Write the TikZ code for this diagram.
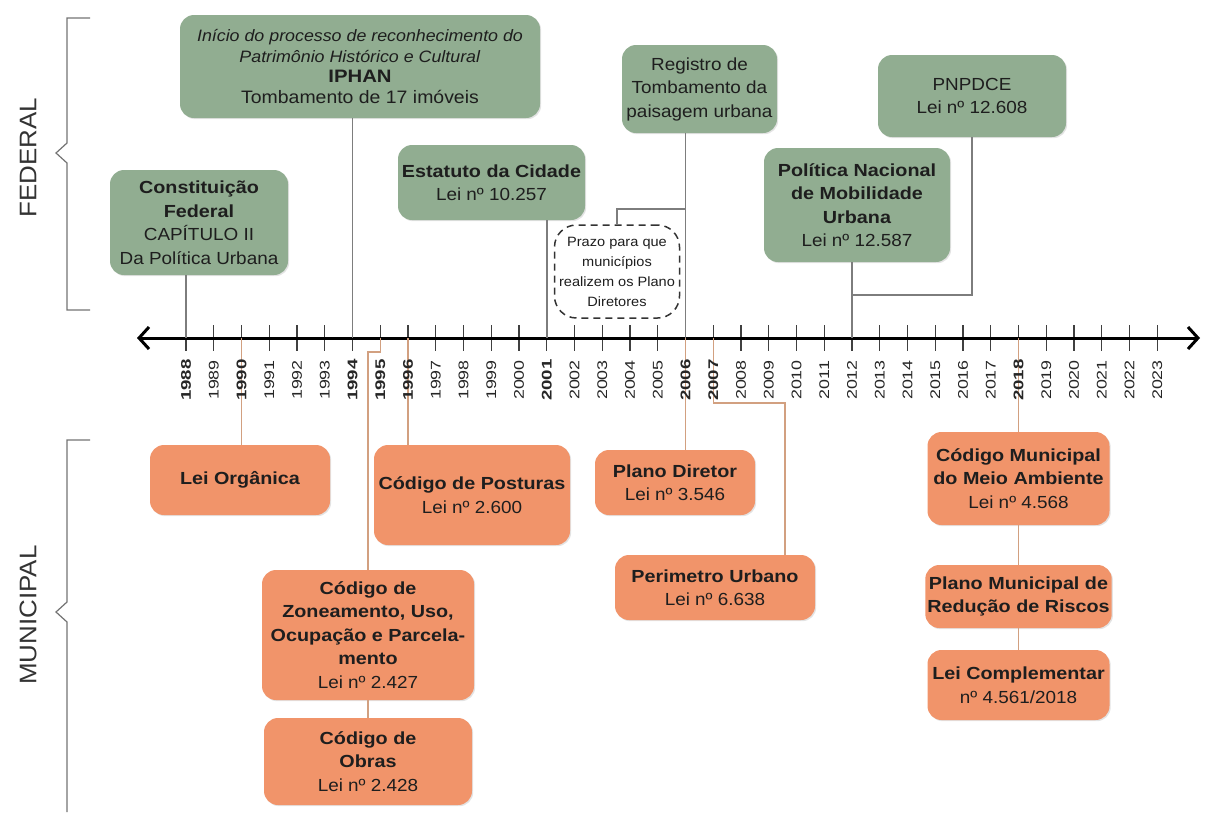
\documentclass[tikz,border=0pt]{standalone}
\usepackage{fontspec}
\setmainfont{Liberation Sans}[FakeStretch=1.08, BoldFeatures={FakeStretch=1.13}]
\usetikzlibrary{arrows.meta,shadows}
\definecolor{fedgreen}{RGB}{145,173,145}
\definecolor{munorange}{RGB}{241,148,106}
\definecolor{txt}{RGB}{30,30,30}
\definecolor{fline}{RGB}{125,125,125}
\definecolor{mline}{RGB}{210,160,128}
\newcommand\bxfont{\fontsize{17.5}{23.5}\selectfont}
\newcommand\yrfont{\fontsize{14}{14}\selectfont}
\begin{document}
\begin{tikzpicture}[x=1pt,y=-1pt,
  box/.style={rectangle, rounded corners=14pt, inner sep=2pt, align=center, text=txt, font=\bxfont,
    drop shadow={shadow xshift=1.2pt, shadow yshift=-1.2pt, opacity=0.22}},
  fedbox/.style={box, fill=fedgreen},
  munbox/.style={box, fill=munorange},
  fcon/.style={draw=fline, line width=1.5pt},
  mcon/.style={draw=mline, line width=1.5pt},
  tickmark/.style={draw=black!75, line width=1.3pt},
  bracketline/.style={draw=black!55, line width=1.2pt},
  sidelabel/.style={rotate=90, font=\fontsize{24}{24}\selectfont, text=black!80},
  yearlab/.style={rotate=90, font=\yrfont, text=black!85},
  axisarrow/.style={line width=3pt, {Straight Barb[length=10pt,width=22pt]}-{Straight Barb[length=10pt,width=22pt]}},
  dashbox/.style={rectangle, draw=black!80, dashed, dash pattern=on 7pt off 5pt, line width=1.5pt,
    rounded corners=22pt, fill=white, align=center, text=txt, font=\fontsize{13.5}{20}\selectfont, inner sep=1pt}
]
\path[use as bounding box] (0,0) rectangle (1206,812);

% year coordinates
\foreach \yr in {1988,...,2023}{
  \coordinate (t\yr) at ({186+(\yr-1988)*27.75},338);
}
% ticks
\foreach \yr in {1988,...,2023}{
  \draw[tickmark] (t\yr) ++(0,-13) -- ++(0,26);
}
% axis
\coordinate (axL) at (137,338);
\coordinate (axR) at (1200,338);
\draw[axisarrow] (axL) -- (axR);

% side brackets
\draw[bracketline] (90,18) -- (67,18) -- (67,143) -- (56,153) -- (67,163) -- (67,310) -- (90,310);
\draw[bracketline] (90,440) -- (67,440) -- (67,602) -- (56,612) -- (67,622) -- (67,812);
\node[sidelabel] (fedlab) at (28,158) {FEDERAL};
\node[sidelabel] (munlab) at (28,615) {MUNICIPAL};

% federal boxes
\node[fedbox, minimum width=178pt, minimum height=105pt] (const) at (199,222.5)
  {\textbf{Constituição}\\\textbf{Federal}\\CAPÍTULO II\\Da Política Urbana};
\node[fedbox, minimum width=360pt, minimum height=103pt, font=\fontsize{16.5}{20.5}\selectfont] (iphan) at (360,66.5)
  {\textit{Início do processo de reconhecimento do}\\\textit{Patrimônio Histórico e Cultural}\\{\fontsize{18}{20.5}\selectfont\textbf{IPHAN}}\\{\fontsize{18}{20.5}\selectfont Tombamento de 17 imóveis}};
\node[fedbox, minimum width=187pt, minimum height=75pt] (estat) at (491.5,182.5)
  {\textbf{Estatuto da Cidade}\\Lei nº 10.257};
\node[fedbox, minimum width=155pt, minimum height=88pt] (regis) at (699.5,89)
  {Registro de\\Tombamento da\\paisagem urbana};
\node[fedbox, minimum width=188pt, minimum height=82pt] (pnpd) at (972,96)
  {PNPDCE\\Lei nº 12.608};
\node[fedbox, minimum width=186pt, minimum height=114pt] (polit) at (857,205)
  {\textbf{Política Nacional}\\\textbf{de Mobilidade}\\\textbf{Urbana}\\Lei nº 12.587};
\node[dashbox, minimum width=125pt, minimum height=93pt] (prazo) at (617,271.5)
  {Prazo para que\\municípios\\realizem os Plano\\Diretores};

% federal connectors
\draw[fcon] (t1988 |- const.south) -- (t1988);
\draw[fcon] (t1994 |- iphan.south) -- (t1994);
\draw[fcon] (t2001 |- estat.south) -- (t2001);
\draw[fcon] (t2006 |- regis.south) -- (t2006);
\draw[fcon] (t2012 |- polit.south) -- (t2012);
\coordinate (pj) at (852,295);
\draw[fcon] (pnpd.south) |- (pj);
\coordinate (dj) at (685.5,209);
\draw[fcon] (prazo.north) |- (dj);

% municipal boxes
\node[munbox, minimum width=180pt, minimum height=70pt] (organ) at (240,480)
  {\textbf{Lei Orgânica}};
\node[munbox, minimum width=196pt, minimum height=100pt] (postu) at (472,495)
  {\textbf{Código de Posturas}\\Lei nº 2.600};
\node[munbox, minimum width=212pt, minimum height=130pt] (zonea) at (368,635)
  {\textbf{Código de}\\\textbf{Zoneamento, Uso,}\\\textbf{Ocupação e Parcela-}\\\textbf{mento}\\Lei nº 2.427};
\node[munbox, minimum width=208pt, minimum height=87pt] (obras) at (368,761.5)
  {\textbf{Código de}\\\textbf{Obras}\\Lei nº 2.428};
\node[munbox, minimum width=160pt, minimum height=65pt] (diret) at (675,482.5)
  {\textbf{Plano Diretor}\\Lei nº 3.546};
\node[munbox, minimum width=200pt, minimum height=65pt] (perim) at (715,587.5)
  {\textbf{Perimetro Urbano}\\Lei nº 6.638};
\node[munbox, minimum width=182pt, minimum height=93pt] (meio) at (1018.5,478.5)
  {\textbf{Código Municipal}\\\textbf{do Meio Ambiente}\\Lei nº 4.568};
\node[munbox, minimum width=182pt, minimum height=63pt] (risco) at (1018.5,596.5)
  {\textbf{Plano Municipal de}\\\textbf{Redução de Riscos}};
\node[munbox, minimum width=182pt, minimum height=70pt] (compl) at (1018.5,685)
  {\textbf{Lei Complementar}\\nº 4.561/2018};

% municipal connectors
\draw[mcon] (t1990) -- (t1990 |- organ.north);
\draw[mcon] (t1996) -- (t1996 |- postu.north);
\draw[mcon] (t1995) -- ++(0,14) -| (zonea.north);
\draw[mcon] (zonea.south) -- (obras.north);
\draw[mcon] (t2006) -- (t2006 |- diret.north);
\coordinate (pe) at (785,403);
\draw[mcon] (t2007) |- (pe) -- (pe |- perim.north);
\draw[mcon] (t2018) -- (meio.north);
\draw[mcon] (meio.south) -- (risco.north);
\draw[mcon] (risco.south) -- (compl.north);

% year labels (on top of the connectors)
\foreach \yr in {1989,1991,1992,1993,1997,1998,1999,2000,2002,2003,2004,2005,2008,2009,2010,2011,2012,2013,2014,2015,2016,2017,2019,2020,2021,2022,2023}{
  \path (t\yr) ++(0,42) node[yearlab] (lab\yr) {\scalebox{1.18}[1]{\yr}};
}
\foreach \yr in {1988,1990,1994,1995,1996,2001,2006,2007,2018}{
  \path (t\yr) ++(0,42) node[yearlab] (lab\yr) {\scalebox{1.18}[1]{\textbf{\yr}}};
}
\end{tikzpicture}
\end{document}
